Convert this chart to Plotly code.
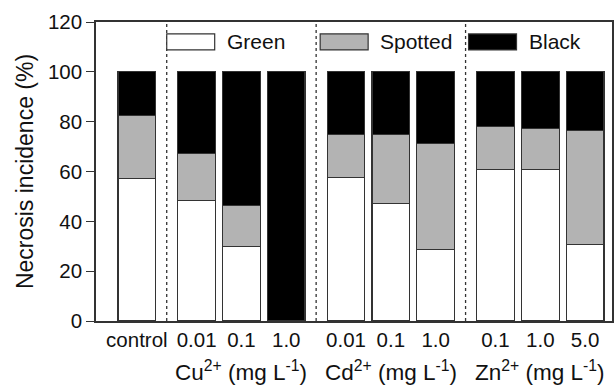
import plotly.graph_objects as go

# ---- data ----
tick_labels = ["control", "0.01", "0.1", "1.0", "0.01", "0.1", "1.0", "0.1", "1.0", "5.0"]
group_of_bar = [0, 1, 1, 1, 2, 2, 2, 3, 3, 3]
group_labels = ["Cu<sup>2+</sup> (mg L<sup>-1</sup>)",
                "Cd<sup>2+</sup> (mg L<sup>-1</sup>)",
                "Zn<sup>2+</sup> (mg L<sup>-1</sup>)"]
green = [57.1, 48.3, 30.0, 0.0, 57.6, 47.1, 28.6, 60.8, 60.9, 30.6]
spotted = [25.4, 19.0, 16.2, 0.0, 17.1, 27.6, 42.5, 17.4, 16.5, 46.0]
black = [17.5, 32.7, 53.8, 100.0, 25.3, 25.3, 28.9, 21.8, 22.6, 23.4]
series_names = ["Green", "Spotted", "Black"]

# ---- styling ----
fills = ["#ffffff", "#b3b3b3", "#000000"]
outline = "#333333"
font = "Arial"
txt = "#111111"
gap = 1 / 3.0

x = [i + g * gap for i, g in enumerate(group_of_bar)]

fig = go.Figure()
for name, vals, col in zip(series_names, [green, spotted, black], fills):
    fig.add_trace(go.Bar(
        x=x, y=vals, name=name, width=0.84,
        marker=dict(color=col, line=dict(color=outline, width=1.2)),
        showlegend=False,
    ))

# group separators (dotted) at midpoints between groups
shapes = []
for i in range(1, len(x)):
    if group_of_bar[i] != group_of_bar[i - 1]:
        xm = (x[i] + x[i - 1]) / 2
        shapes.append(dict(type="line", xref="x", yref="y", x0=xm, x1=xm, y0=0, y1=120,
                           line=dict(color="#333333", width=1.3, dash="dot")))

# group labels centered under groups
annotations = []
for g, lab in enumerate(group_labels, start=1):
    xs = [xi for xi, gg in zip(x, group_of_bar) if gg == g]
    annotations.append(dict(x=sum(xs) / len(xs), y=-0.168, xref="x", yref="paper",
                            text=lab, showarrow=False, yanchor="middle",
                            font=dict(family=font, size=22.5, color=txt)))

# legend drawn inside top of plot
leg_x = [0.667, 4.09, 7.40]
for name, col, lx in zip(series_names, fills, leg_x):
    shapes.append(dict(type="rect", xref="x", yref="y", x0=lx, x1=lx + 1.07, y0=108.8, y1=115.2,
                       fillcolor=col, line=dict(color=outline, width=1.2)))
    annotations.append(dict(x=lx + 1.30, y=112.0, xref="x", yref="y", text=name,
                            showarrow=False, xanchor="left", yanchor="middle",
                            font=dict(family=font, size=21, color=txt)))

fig.update_layout(
    barmode="stack",
    width=616, height=387,
    margin=dict(l=96, r=2, t=22, b=66),
    plot_bgcolor="white", paper_bgcolor="white",
    shapes=shapes, annotations=annotations,
    font=dict(family=font, size=20.5, color=txt),
)
fig.update_xaxes(
    range=[-0.911, 10.6], tickmode="array", tickvals=x, ticktext=tick_labels,
    showgrid=False, zeroline=False, showline=True, linecolor="#333333", linewidth=1.5,
    mirror=True, ticks="", tickfont=dict(family=font, size=20.5, color=txt),
)
fig.update_yaxes(
    range=[0, 120], tickmode="array", tickvals=[0, 20, 40, 60, 80, 100, 120],
    showgrid=False, zeroline=False, showline=True, linecolor="#333333", linewidth=1.5,
    mirror=True, ticks="outside", ticklen=8, tickwidth=1.3, tickcolor="#333333",
    tickfont=dict(family=font, size=20.5, color=txt),
    title=dict(text="Necrosis incidence (%)", font=dict(family=font, size=23, color=txt), standoff=8),
)

fig.write_html("out.html")
